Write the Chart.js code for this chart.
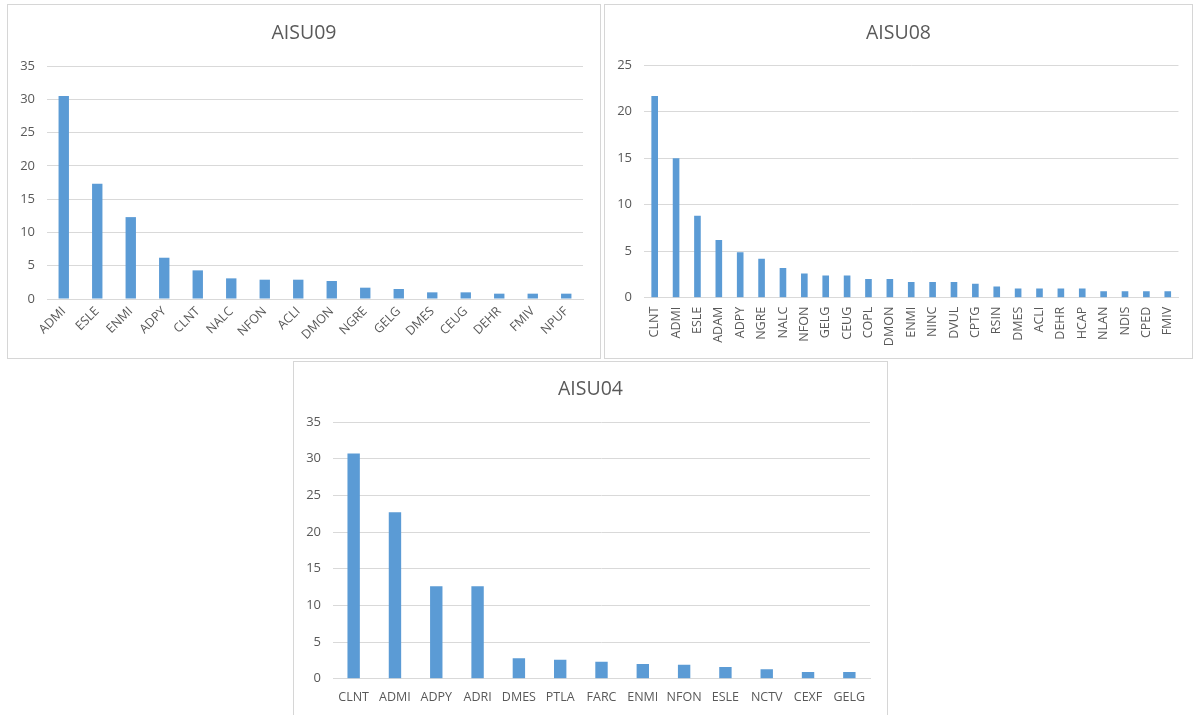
<!DOCTYPE html>
<html>
<head>
<meta charset="utf-8">
<script src="https://cdn.jsdelivr.net/npm/chart.js@4.4.1/dist/chart.umd.min.js"></script>
<style>
  html, body { margin: 0; padding: 0; background: #ffffff; }
  body { width: 1195px; height: 715px; position: relative; overflow: hidden; }
  .panel { position: absolute; box-sizing: border-box; border: 1px solid #d6d6d6; background: #ffffff; }
  .panel canvas { position: absolute; left: 0; top: 0; }
</style>
</head>
<body>
<div class="panel" style="left:7px; top:4px; width:594px; height:355px;">
  <canvas id="c09" width="592" height="353"></canvas>
</div>
<div class="panel" style="left:604px; top:4px; width:589px; height:355px;">
  <canvas id="c08" width="587" height="353"></canvas>
</div>
<div class="panel" style="left:293px; top:361px; width:595px; height:356px;">
  <canvas id="c04" width="593" height="354"></canvas>
</div>
<script>
// AISU09
const aisu09Labels = ['ADMI', 'ESLE', 'ENMI', 'ADPY', 'CLNT', 'NALC', 'NFON', 'ACLI', 'DMON', 'NGRE', 'GELG', 'DMES', 'CEUG', 'DEHR', 'FMIV', 'NPUF'];
const aisu09Values = [30.5, 17.3, 12.3, 6.2, 4.3, 3.1, 2.9, 2.9, 2.7, 1.7, 1.5, 1.0, 1.0, 0.8, 0.8, 0.8];

// AISU08
const aisu08Labels = ['CLNT', 'ADMI', 'ESLE', 'ADAM', 'ADPY', 'NGRE', 'NALC', 'NFON', 'GELG', 'CEUG', 'COPL', 'DMON', 'ENMI', 'NINC', 'DVUL', 'CPTG', 'RSIN', 'DMES', 'ACLI', 'DEHR', 'HCAP', 'NLAN', 'NDIS', 'CPED', 'FMIV'];
const aisu08Values = [21.7, 15.0, 8.8, 6.2, 4.9, 4.2, 3.2, 2.6, 2.4, 2.4, 2.0, 2.0, 1.7, 1.7, 1.7, 1.5, 1.2, 1.0, 1.0, 1.0, 1.0, 0.7, 0.7, 0.7, 0.7];

// AISU04
const aisu04Labels = ['CLNT', 'ADMI', 'ADPY', 'ADRI', 'DMES', 'PTLA', 'FARC', 'ENMI', 'NFON', 'ESLE', 'NCTV', 'CEXF', 'GELG'];
const aisu04Values = [30.7, 22.7, 12.6, 12.6, 2.8, 2.6, 2.3, 2.0, 1.9, 1.6, 1.3, 0.9, 0.9];

// y-axis ranges (min, max, step)
const aisu09Axis = [0, 35, 5];
const aisu08Axis = [0, 25, 5];
const aisu04Axis = [0, 35, 5];

const FONT = "'Open Sans', 'Liberation Sans', sans-serif";
const TEXT = '#595959';
const GRID = '#d9d9d9';
const BAR = '#5b9bd5';

function drawChart(id, title, labels, values, axis, cfg) {
  return new Chart(document.getElementById(id), {
    type: 'bar',
    data: {
      labels: labels,
      datasets: [{
        data: values,
        backgroundColor: BAR,
        borderWidth: 0,
        barPercentage: cfg.barPct,
        categoryPercentage: 1,
        yAxisID: 'y'
      }]
    },
    options: {
      responsive: false,
      animation: false,
      devicePixelRatio: 1,
      layout: { padding: 0 },
      plugins: {
        legend: { display: false },
        tooltip: { enabled: false },
        title: {
          display: true,
          text: title,
          color: TEXT,
          font: { family: FONT, size: 19.5, weight: 'normal', lineHeight: 1.2 },
          padding: { top: cfg.titleTop, bottom: cfg.titleBottom }
        }
      },
      scales: {
        x: {
          grid: { display: false, drawTicks: false },
          border: { display: true, color: GRID, width: 1 },
          ticks: {
            color: TEXT,
            font: { family: FONT, size: 12.5 },
            autoSkip: false,
            minRotation: cfg.rotation,
            maxRotation: cfg.rotation,
            padding: cfg.xPad
          },
          afterFit: (s) => { s.height = cfg.xHeight; }
        },
        y: {
          min: axis[0],
          max: axis[1],
          grid: { color: GRID, drawTicks: false, lineWidth: 1 },
          border: { display: false },
          ticks: {
            stepSize: axis[2],
            color: TEXT,
            font: { family: FONT, size: 13 },
            padding: 12
          },
          afterFit: (s) => { s.width = 39; }
        },
        // empty right-hand margin of the plot
        margin: {
          type: 'linear',
          position: 'right',
          grid: { display: false, drawTicks: false },
          border: { display: false },
          ticks: { display: false },
          afterFit: (s) => { s.width = cfg.right; }
        }
      }
    }
  });
}

drawChart('c09', 'AISU09', aisu09Labels, aisu09Values, aisu09Axis,
  { barPct: 0.31, right: 17, titleTop: 16.8, titleBottom: 20.8, rotation: 45, xPad: 5, xHeight: 59 });
drawChart('c08', 'AISU08', aisu08Labels, aisu08Values, aisu08Axis,
  { barPct: 0.31, right: 12, titleTop: 16.8, titleBottom: 20.0, rotation: 90, xPad: 9, xHeight: 60.3 });
drawChart('c04', 'AISU04', aisu04Labels, aisu04Values, aisu04Axis,
  { barPct: 0.30, right: 17, titleTop: 15.8, titleBottom: 20.8, rotation: 0, xPad: 11, xHeight: 37.3 });
</script>
</body>
</html>
